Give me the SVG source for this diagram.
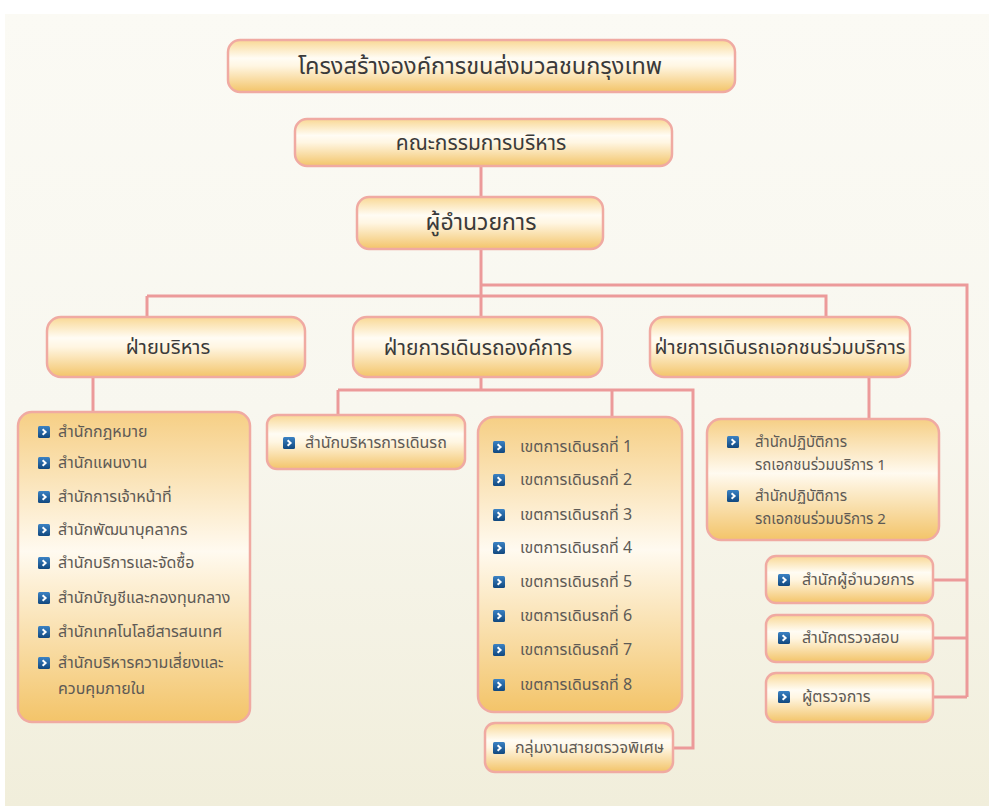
<svg xmlns="http://www.w3.org/2000/svg" width="989" height="806" viewBox="0 0 989 806">
<defs>
<linearGradient id="bg" x1="0" y1="0" x2="0" y2="1">
<stop offset="0" stop-color="#fbfaf4"/><stop offset="0.5" stop-color="#f8f7ef"/><stop offset="1" stop-color="#f1eedb"/>
</linearGradient>
<linearGradient id="hdr" x1="0" y1="0" x2="0" y2="1">
<stop offset="0" stop-color="#f9d894"/><stop offset="0.35" stop-color="#fffcf4"/><stop offset="0.5" stop-color="#fff6e2"/><stop offset="1" stop-color="#f3c469"/>
</linearGradient>
<linearGradient id="lst" x1="0" y1="0" x2="0" y2="1">
<stop offset="0" stop-color="#f6cf85"/><stop offset="0.45" stop-color="#fffaf0"/><stop offset="0.55" stop-color="#fdf0d6"/><stop offset="1" stop-color="#f3c469"/>
</linearGradient>
<linearGradient id="ico" x1="0" y1="0" x2="0" y2="1">
<stop offset="0" stop-color="#3b82c4"/><stop offset="1" stop-color="#11487f"/>
</linearGradient>
<symbol id="b" viewBox="0 0 12 12" overflow="visible">
<rect x="0" y="0" width="12" height="12" rx="1.5" fill="url(#ico)"/>
<path d="M4.6 3.2 L7.6 6 L4.6 8.8" fill="none" stroke="#fff" stroke-width="2"/>
</symbol>
</defs>
<style>
.box{stroke:#f0aaa2;stroke-width:2.5}
.h{fill:url(#hdr)}
.l{fill:url(#lst)}
.ht{font-family:"Tahoma","Noto Sans Thai","Loma","Garuda","DejaVu Sans",sans-serif;font-size:20px;fill:#3a3a3a;text-anchor:middle;dominant-baseline:central}
.t{font-family:"Tahoma","Noto Sans Thai","Loma","Garuda","DejaVu Sans",sans-serif;font-size:16px;fill:#5e5a55;dominant-baseline:central}
.s{font-size:15px}
.c{fill:none;stroke:#ec9a9a;stroke-width:3}
</style>
<rect x="0" y="0" width="989" height="806" fill="#ffffff"/>
<rect x="5" y="14" width="984" height="792" fill="url(#bg)"/>

<g id="connectors" class="c">
<path d="M481 166 V197"/>
<path d="M481 249 V317"/>
<path d="M481 285 H967 V697"/>
<path d="M147 296 H826 V317"/>
<path d="M147 296 V317"/>
<path d="M93 377 V412"/>
<path d="M481 377 V390"/>
<path d="M338 390 H693 V748 H673"/>
<path d="M338 390 V415"/>
<path d="M612 390 V417"/>
<path d="M869 377 V419"/>
<path d="M933 580 H967"/>
<path d="M933 638 H967"/>
<path d="M933 697 H967"/>
</g>

<g id="title">
<rect class="box h" x="228" y="40" width="507" height="52" rx="12"/>
<text class="ht" x="480" y="67" style="font-size:23.5px">โครงสร้างองค์การขนส่งมวลชนกรุงเทพ</text>
</g>
<g id="board">
<rect class="box h" x="295" y="119" width="377" height="47" rx="12"/>
<text class="ht" x="481" y="143" style="font-size:21px">คณะกรรมการบริหาร</text>
</g>
<g id="director">
<rect class="box h" x="357" y="197" width="246" height="52" rx="12"/>
<text class="ht" x="481" y="223" style="font-size:23px">ผู้อำนวยการ</text>
</g>
<g id="admin">
<rect class="box h" x="47" y="317" width="258" height="60" rx="14"/>
<text class="ht" x="168" y="348">ฝ่ายบริหาร</text>
</g>
<g id="ops">
<rect class="box h" x="353" y="317" width="249" height="60" rx="14"/>
<text class="ht" x="478" y="348" style="font-size:21px">ฝ่ายการเดินรถองค์การ</text>
</g>
<g id="private">
<rect class="box h" x="650" y="317" width="260" height="60" rx="14"/>
<text class="ht" x="780" y="348">ฝ่ายการเดินรถเอกชนร่วมบริการ</text>
</g>

<g id="admin-list">
<rect class="box l" x="18" y="412" width="232" height="310" rx="14"/>
<use href="#b" x="38" y="426" width="12" height="12"/><text class="t" x="58" y="432">สำนักกฎหมาย</text>
<use href="#b" x="38" y="457" width="12" height="12"/><text class="t" x="58" y="463">สำนักแผนงาน</text>
<use href="#b" x="38" y="491" width="12" height="12"/><text class="t" x="58" y="497">สำนักการเจ้าหน้าที่</text>
<use href="#b" x="38" y="524" width="12" height="12"/><text class="t" x="58" y="530">สำนักพัฒนาบุคลากร</text>
<use href="#b" x="38" y="557" width="12" height="12"/><text class="t" x="58" y="563">สำนักบริการและจัดซื้อ</text>
<use href="#b" x="38" y="592" width="12" height="12"/><text class="t" x="58" y="598">สำนักบัญชีและกองทุนกลาง</text>
<use href="#b" x="38" y="626" width="12" height="12"/><text class="t" x="58" y="632">สำนักเทคโนโลยีสารสนเทศ</text>
<use href="#b" x="38" y="657" width="12" height="12"/><text class="t" x="58" y="663">สำนักบริหารความเสี่ยงและ</text>
<text class="t" x="58" y="689">ควบคุมภายใน</text>
</g>

<g id="ops-admin">
<rect class="box h" x="267" y="415" width="198" height="54" rx="10"/>
<use href="#b" x="283" y="437" width="12" height="12"/><text class="t" x="305" y="443">สำนักบริหารการเดินรถ</text>
</g>

<g id="zones">
<rect class="box l" x="478" y="417" width="204" height="295" rx="16"/>
<use href="#b" x="493" y="441" width="12" height="12"/><text class="t" x="520" y="447">เขตการเดินรถที่ 1</text>
<use href="#b" x="493" y="474" width="12" height="12"/><text class="t" x="520" y="480">เขตการเดินรถที่ 2</text>
<use href="#b" x="493" y="509" width="12" height="12"/><text class="t" x="520" y="515">เขตการเดินรถที่ 3</text>
<use href="#b" x="493" y="542" width="12" height="12"/><text class="t" x="520" y="548">เขตการเดินรถที่ 4</text>
<use href="#b" x="493" y="576" width="12" height="12"/><text class="t" x="520" y="582">เขตการเดินรถที่ 5</text>
<use href="#b" x="493" y="610" width="12" height="12"/><text class="t" x="520" y="616">เขตการเดินรถที่ 6</text>
<use href="#b" x="493" y="644" width="12" height="12"/><text class="t" x="520" y="650">เขตการเดินรถที่ 7</text>
<use href="#b" x="493" y="679" width="12" height="12"/><text class="t" x="520" y="685">เขตการเดินรถที่ 8</text>
</g>

<g id="patrol">
<rect class="box h" x="485" y="723" width="188" height="49" rx="10"/>
<use href="#b" x="493" y="742" width="12" height="12"/><text class="t" x="515" y="748">กลุ่มงานสายตรวจพิเศษ</text>
</g>

<g id="private-list">
<rect class="box l" x="707" y="419" width="232" height="121" rx="14"/>
<use href="#b" x="727" y="436" width="12" height="12"/><text class="t s" x="755" y="442">สำนักปฏิบัติการ</text>
<text class="t s" x="755" y="465">รถเอกชนร่วมบริการ 1</text>
<use href="#b" x="727" y="490" width="12" height="12"/><text class="t s" x="755" y="496">สำนักปฏิบัติการ</text>
<text class="t s" x="755" y="519">รถเอกชนร่วมบริการ 2</text>
</g>

<g id="dir-office">
<rect class="box h" x="766" y="556" width="167" height="47" rx="10"/>
<use href="#b" x="778" y="574" width="12" height="12"/><text class="t" x="802" y="580">สำนักผู้อำนวยการ</text>
</g>
<g id="audit">
<rect class="box h" x="766" y="615" width="167" height="47" rx="10"/>
<use href="#b" x="778" y="632" width="12" height="12"/><text class="t" x="802" y="638">สำนักตรวจสอบ</text>
</g>
<g id="inspector">
<rect class="box h" x="766" y="673" width="167" height="49" rx="10"/>
<use href="#b" x="778" y="691" width="12" height="12"/><text class="t" x="802" y="697">ผู้ตรวจการ</text>
</g>
</svg>
